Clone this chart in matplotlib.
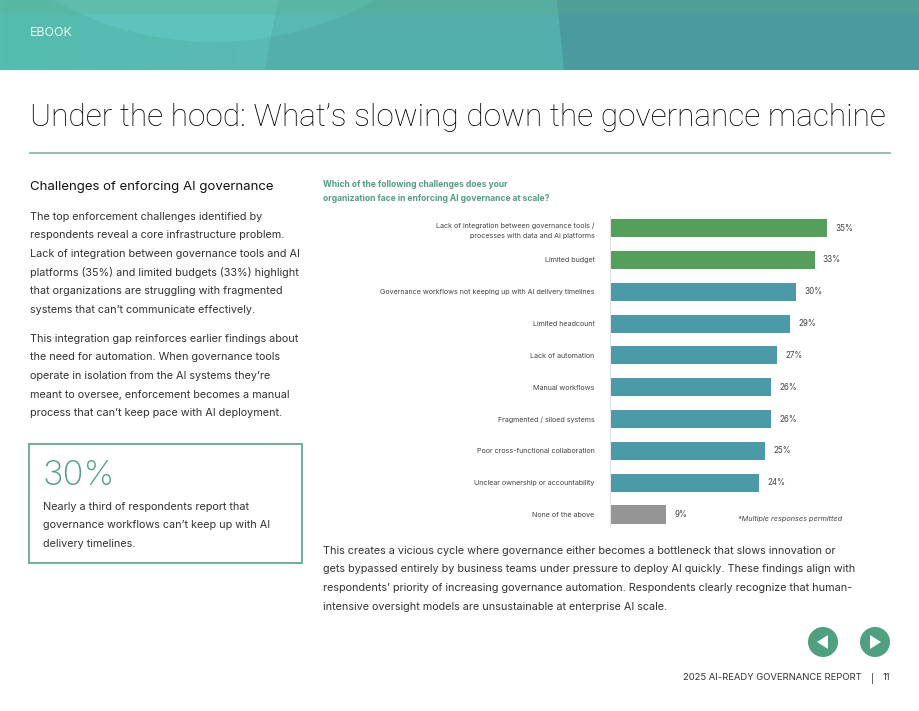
import numpy as np
import matplotlib
matplotlib.use('Agg')
import matplotlib.pyplot as plt
from matplotlib.colors import LinearSegmentedColormap
from matplotlib.patches import Circle, Polygon, Rectangle

challenges = [
    "Lack of integration between governance tools /\nprocesses with data and AI platforms",
    "Limited budget",
    "Governance workflows not keeping up with AI delivery timelines",
    "Limited headcount",
    "Lack of automation",
    "Manual workflows",
    "Fragmented / siloed systems",
    "Poor cross-functional collaboration",
    "Unclear ownership or accountability",
    "None of the above",
]
shares = [35, 33, 30, 29, 27, 26, 26, 25, 24, 9]
bar_colors = ['#559e5c'] * 2 + ['#4a9aa8'] * 7 + ['#959595']

left_col_1 = [
    "The top enforcement challenges identified by",
    "respondents reveal a core infrastructure problem.",
    "Lack of integration between governance tools and AI",
    "platforms (35%) and limited budgets (33%) highlight",
    "that organizations are struggling with fragmented",
    "systems that can\u2019t communicate effectively.",
]
left_col_2 = [
    "This integration gap reinforces earlier findings about",
    "the need for automation. When governance tools",
    "operate in isolation from the AI systems they\u2019re",
    "meant to oversee, enforcement becomes a manual",
    "process that can\u2019t keep pace with AI deployment.",
]
callout = [
    "Nearly a third of respondents report that",
    "governance workflows can\u2019t keep up with AI",
    "delivery timelines.",
]
closing = [
    "This creates a vicious cycle where governance either becomes a bottleneck that slows innovation or",
    "gets bypassed entirely by business teams under pressure to deploy AI quickly. These findings align with",
    "respondents\u2019 priority of increasing governance automation. Respondents clearly recognize that human-",
    "intensive oversight models are unsustainable at enterprise AI scale.",
]

plt.rcParams['font.family'] = ['Inter', 'DejaVu Sans']
W, H = 920, 711
GREEN = '#4f9f81'
DARK = '#333333'
BODY = 7.8

fig = plt.figure(figsize=(W / 100, H / 100), dpi=100)

# page layer in pixel coordinates, y going down
page = fig.add_axes([0, 0, 1, 1])
page.set_xlim(0, W)
page.set_ylim(H, 0)
page.axis('off')

# header banner: soft gradient on the left, flat panels to the right
banner = LinearSegmentedColormap.from_list('banner', ['#54bdae', '#5ab9b5'])
page.imshow(np.linspace(0, 1, 64).reshape(1, -1), cmap=banner, extent=[0, 285, 70, 0], aspect='auto', zorder=1)
page.set_xlim(0, W)
page.set_ylim(H, 0)
page.add_patch(Circle((214, -288), 330, color='#5fc3bd', lw=0, zorder=2))
page.add_patch(Polygon([[279, 0], [564, 0], [564, 70], [265, 70], [272, 32]], color='#52afab', lw=0, zorder=3))
arc_clip = Circle((214, -288), 330, color='#58b8b4', lw=0, zorder=4)
page.add_patch(arc_clip)
arc_clip.set_clip_path(Polygon([[279, 0], [564, 0], [564, 70], [265, 70]], transform=page.transData))
page.add_patch(Polygon([[557, 0], [W, 0], [W, 70], [564, 70]], color='#4a9b9f', lw=0, zorder=5))
page.add_patch(Rectangle((0, 0), W, 15, color='#5fae80', alpha=0.25, lw=0, zorder=6))
page.text(30, 33, "EBOOK", color='#e8f6f3', fontsize=8.9, va='center', zorder=7)

# title and rule
page.text(30, 117, "Under the hood: What\u2019s slowing down the governance machine",
          fontsize=22.8, color='black', va='center', family=['Roboto', 'DejaVu Sans'], fontweight='light')
page.plot([30, 890], [153, 153], color='#7fb3a4', lw=1.2)

# left column
page.text(30, 187, "Challenges of enforcing AI governance", fontsize=9.5, color='#111111', va='center')
for i, line in enumerate(left_col_1):
    page.text(30, 216.5 + i * 18.7, line, fontsize=BODY, color=DARK, va='center')
for i, line in enumerate(left_col_2):
    page.text(30, 338.5 + i * 18.7, line, fontsize=BODY, color=DARK, va='center')

# callout box
page.add_patch(Rectangle((29.5, 444), 272.5, 119, fill=False, edgecolor='#6fae98', lw=1.4))
page.text(43, 476, "30%", fontsize=25, color=GREEN, va='center', fontweight='light')
for i, line in enumerate(callout):
    page.text(43, 506.5 + i * 18.7, line, fontsize=BODY, color=DARK, va='center')

# chart heading
page.text(323, 184.5, "Which of the following challenges does your", fontsize=6.15, color=GREEN, va='center', fontweight='bold')
page.text(323, 198.5, "organization face in enforcing AI governance at scale?", fontsize=6.15, color=GREEN, va='center', fontweight='bold')

# paragraph under the chart
for i, line in enumerate(closing):
    page.text(323, 550.5 + i * 18.7, line, fontsize=BODY, color=DARK, va='center')

# navigation buttons and footer
for cx, pts in [(823, [[-6, 0], [5, -7], [5, 7]]), (875, [[6, 0], [-5, -7], [-5, 7]])]:
    page.add_patch(Circle((cx, 642), 15, color='#4f9f81', lw=0))
    page.add_patch(Polygon([[cx + px, 642 + py] for px, py in pts], color='white', lw=0))
page.text(862, 678, "2025 AI-READY GOVERNANCE REPORT", fontsize=6.8, color=DARK, va='center', ha='right')
page.text(872, 678, "|", fontsize=6.8, color=DARK, va='center', ha='center')
page.text(890, 678, "11", fontsize=6.8, color=DARK, va='center', ha='right')

# bar chart, 6.2 px per percentage point
ax_left, ax_top, ax_w, ax_h = 610, 216, 248, 310
ax = fig.add_axes([ax_left / W, 1 - (ax_top + ax_h) / H, ax_w / W, ax_h / H])
ax.patch.set_alpha(0)
y = np.arange(len(shares))
bars = ax.barh(y, shares, height=0.57, color=bar_colors)
ax.set_xlim(0, 40)
ax.set_ylim(9.36, -0.38)
ax.set_yticks(y)
ax.set_yticklabels(challenges, fontsize=5.15, color='#444444', linespacing=1.9)
ax.tick_params(axis='y', length=0, pad=11)
ax.set_xticks([])
for side in ['top', 'right', 'bottom']:
    ax.spines[side].set_visible(False)
ax.spines['left'].set_color('#e2e2e2')
ax.spines['left'].set_linewidth(0.8)
ax.bar_label(bars, labels=[f"{v}%" for v in shares], padding=6, fontsize=5.8, color='#444444')

page.text(842, 519.5, "*Multiple responses permitted", fontsize=5.25, color='#444444', va='center', ha='right', style='italic')

plt.savefig("out.png", dpi=100)
